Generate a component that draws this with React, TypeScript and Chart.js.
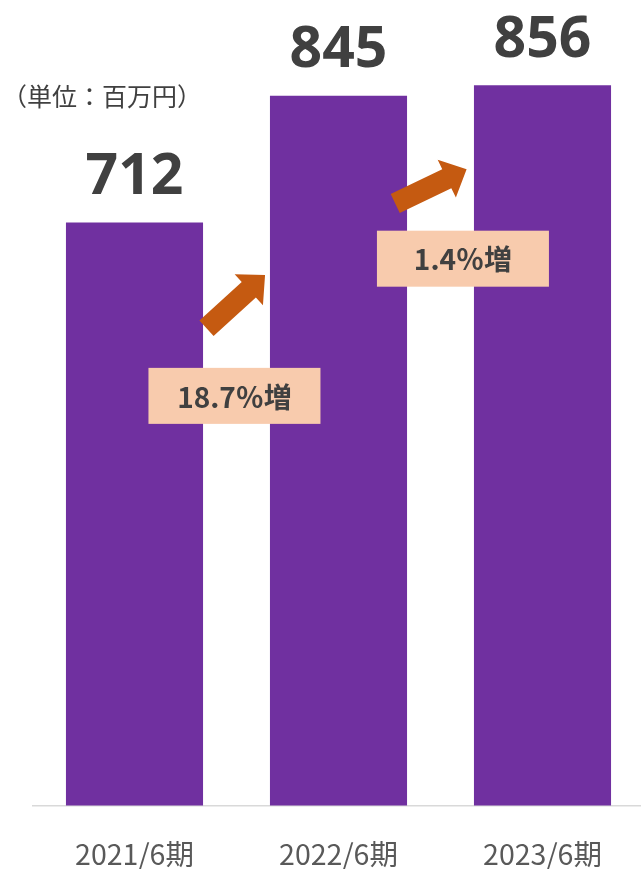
import React, { useEffect, useRef } from "react";
import { Chart, registerables } from "chart.js";

Chart.register(...registerables);

// Fiscal periods and sales (million yen)
const periods = ["2021/6期", "2022/6期", "2023/6期"];
const sales = [712, 845, 856];
const unitLabel = "（単位：百万円）";

// Growth call-outs between periods, anchored in data space (category index, value)
const growthLabels = ["18.7％増", "1.4％増"];
const growthBoxX = [0.49, 1.61];
const growthBoxY = [530, 674];
const arrowTailX = [0.353, 1.278];
const arrowTailY = [601, 732];
const arrowTipX = [0.64, 1.628];
const arrowTipY = [657, 768];

const BAR_COLOR = "#7030A0";
const ARROW_COLOR = "#C55A11";
const BOX_COLOR = "#F8CBAD";
const TEXT_DARK = "#404040";
const TEXT_AXIS = "#595959";

const overlayPlugin = {
  id: "salesOverlay",
  afterDatasetsDraw(chart: any) {
    const { ctx } = chart;
    const xs = chart.scales.x;
    const ys = chart.scales.y;
    const meta = chart.getDatasetMeta(0);

    ctx.save();

    // value labels above the bars
    ctx.fillStyle = TEXT_DARK;
    ctx.font = "bold 57px 'Open Sans', sans-serif";
    ctx.textAlign = "center";
    ctx.textBaseline = "alphabetic";
    meta.data.forEach((bar: any, i: number) => {
      ctx.fillText(String(sales[i]), bar.x, bar.y - 28.5);
    });

    // growth arrows
    const shaftW = 21;
    const headW = 42;
    const headLen = 22;
    for (let i = 0; i < arrowTailX.length; i++) {
      const tx = xs.getPixelForValue(arrowTailX[i]);
      const ty = ys.getPixelForValue(arrowTailY[i]);
      const px = xs.getPixelForValue(arrowTipX[i]);
      const py = ys.getPixelForValue(arrowTipY[i]);
      const len = Math.hypot(px - tx, py - ty);
      const ux = (px - tx) / len;
      const uy = (py - ty) / len;
      const nx = -uy;
      const ny = ux;
      const bx = px - ux * headLen;
      const by = py - uy * headLen;
      ctx.beginPath();
      ctx.moveTo(tx + nx * shaftW / 2, ty + ny * shaftW / 2);
      ctx.lineTo(bx + nx * shaftW / 2, by + ny * shaftW / 2);
      ctx.lineTo(bx + nx * headW / 2, by + ny * headW / 2);
      ctx.lineTo(px, py);
      ctx.lineTo(bx - nx * headW / 2, by - ny * headW / 2);
      ctx.lineTo(bx - nx * shaftW / 2, by - ny * shaftW / 2);
      ctx.lineTo(tx - nx * shaftW / 2, ty - ny * shaftW / 2);
      ctx.closePath();
      ctx.fillStyle = ARROW_COLOR;
      ctx.fill();
    }

    // growth boxes
    const boxW = 172;
    const boxH = 56;
    ctx.font = "bold 28px 'Noto Sans CJK JP', sans-serif";
    ctx.textAlign = "center";
    ctx.textBaseline = "middle";
    for (let i = 0; i < growthLabels.length; i++) {
      const cx = xs.getPixelForValue(growthBoxX[i]);
      const cy = ys.getPixelForValue(growthBoxY[i]);
      ctx.fillStyle = BOX_COLOR;
      ctx.fillRect(cx - boxW / 2, cy - boxH / 2, boxW, boxH);
      ctx.fillStyle = TEXT_DARK;
      ctx.fillText(growthLabels[i], cx, cy + 1);
    }

    // unit note
    ctx.font = "25px 'Noto Sans CJK JP', sans-serif";
    ctx.textAlign = "left";
    ctx.textBaseline = "middle";
    ctx.fillStyle = TEXT_DARK;
    ctx.fillText(unitLabel, 2, 96);

    ctx.restore();
  },
};

export default function App() {
  const canvasRef = useRef<HTMLCanvasElement | null>(null);

  useEffect(() => {
    if (!canvasRef.current) return;
    const chart = new Chart(canvasRef.current, {
      type: "bar",
      data: {
        labels: periods,
        datasets: [
          {
            data: sales,
            backgroundColor: BAR_COLOR,
            borderWidth: 0,
            barPercentage: 0.672,
            categoryPercentage: 1,
          },
        ],
      },
      options: {
        responsive: false,
        animation: false,
        events: [],
        layout: { padding: { left: 32.5, right: 0.5, top: 43.4, bottom: 0 } },
        plugins: {
          legend: { display: false },
          tooltip: { enabled: false },
          title: { display: false },
        },
        scales: {
          x: {
            grid: { display: false, drawTicks: false },
            border: { display: true, color: "#D9D9D9", width: 1.5 },
            ticks: {
              color: TEXT_AXIS,
              padding: 32,
              font: { family: "'Noto Sans CJK JP', sans-serif", size: 28.5 },
            },
            afterFit: (scale: any) => {
              scale.height = 63.5;
            },
          },
          y: {
            display: false,
            min: 100,
            max: 900,
          },
        },
      },
      plugins: [overlayPlugin],
    });
    return () => chart.destroy();
  }, []);

  return (
    <div
      style={{
        position: "fixed",
        left: 0,
        top: 0,
        width: 641,
        height: 869,
        overflow: "hidden",
        background: "#ffffff",
      }}
    >
      <canvas
        ref={canvasRef}
        width={645}
        height={869}
        style={{ width: 645, height: 869, display: "block" }}
      />
    </div>
  );
}
